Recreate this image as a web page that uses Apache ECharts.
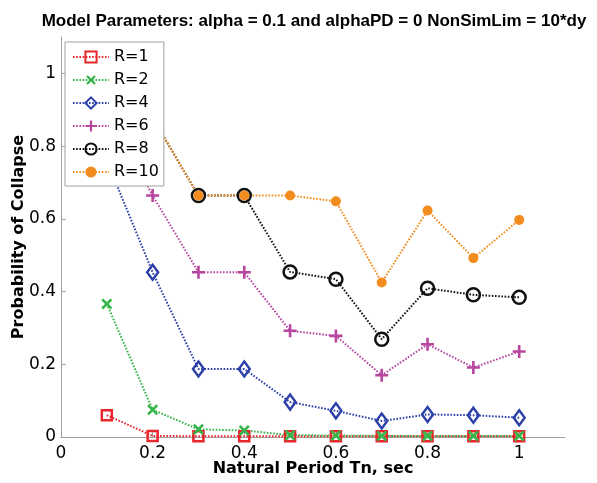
<!DOCTYPE html>
<html>
<head>
<meta charset="utf-8">
<script src="https://cdn.jsdelivr.net/npm/echarts@6/dist/echarts.min.js"></script>
<style>
  html, body { margin: 0; padding: 0; background: #fff; }
  #chart { width: 597px; height: 483px; }
</style>
</head>
<body>
<div id="chart"></div>
<script>
// Natural period (sec) at which each collapse probability was evaluated
const periods = [0.1, 0.2, 0.3, 0.4, 0.5, 0.6, 0.7, 0.8, 0.9, 1.0];

// Probability of collapse per strength ratio R
const r1  = [0.060, 0.003, 0.002, 0.002, 0.002, 0.002, 0.002, 0.002, 0.002, 0.002];
const r2  = [0.366, 0.075, 0.021, 0.018, 0.005, 0.004, 0.003, 0.003, 0.003, 0.003];
const r4  = [0.760, 0.453, 0.187, 0.187, 0.096, 0.072, 0.044, 0.062, 0.060, 0.053];
const r6  = [0.900, 0.664, 0.453, 0.453, 0.292, 0.278, 0.170, 0.255, 0.191, 0.235];
const r8  = [1.000, 0.877, 0.664, 0.664, 0.454, 0.434, 0.269, 0.409, 0.391, 0.384];
const r10 = [1.000, 0.877, 0.664, 0.664, 0.664, 0.648, 0.425, 0.623, 0.492, 0.597];

const tickValues = [0, 0.2, 0.4, 0.6, 0.8, 1.0];

const FONT = '"DejaVu Sans", "Liberation Sans", Arial, sans-serif';
const TITLE_FONT = '"Liberation Sans", Arial, Helvetica, sans-serif';
const plusPath = 'path://M4,0H6V4H10V6H6V10H4V6H0V4H4Z';

function pairs(values) {
  return periods.map((p, i) => [p, values[i]]);
}

function lineSeries(name, values, color, symbol, opts) {
  return Object.assign({
    name: name,
    type: 'line',
    data: pairs(values),
    symbol: symbol,
    showAllSymbol: true,
    lineStyle: { color: color, width: 2, type: [1.6, 1.6] },
    emphasis: { disabled: true },
    animation: false
  }, opts);
}

const chart = echarts.init(document.getElementById('chart'), null, { renderer: 'canvas' });

chart.setOption({
  backgroundColor: '#ffffff',
  animation: false,
  title: {
    text: 'Model Parameters: alpha = 0.1 and alphaPD = 0 NonSimLim = 10*dy',
    left: 309,
    top: 8,
    textAlign: 'center',
    textStyle: { fontFamily: TITLE_FONT, fontSize: 17, fontWeight: 'bold', color: '#000' }
  },
  legend: {
    orient: 'vertical',
    left: 65,
    top: 42,
    padding: [7, 5, 6, 7],
    itemWidth: 36,
    itemHeight: 14,
    itemGap: 7,
    backgroundColor: '#ffffff',
    borderColor: '#a0a0a0',
    borderWidth: 1,
    textStyle: { fontFamily: FONT, fontSize: 16, lineHeight: 16, color: '#000' },
    data: ['R=1', 'R=2', 'R=4', 'R=6', 'R=8', 'R=10']
  },
  grid: { left: 61, right: 32, top: 37, bottom: 46, containLabel: false, outerBoundsMode: 'none' },
  xAxis: {
    type: 'value',
    min: 0,
    max: 1.1,
    interval: 0.2,
    name: 'Natural Period Tn, sec',
    nameLocation: 'middle',
    nameGap: 24,
    nameMoveOverlap: false,
    nameTextStyle: { fontFamily: FONT, fontSize: 16, fontWeight: 'bold', color: '#000' },
    axisLine: { show: true, onZero: false, lineStyle: { color: '#a0a0a0', width: 1 } },
    axisTick: { show: true, inside: true, length: 5, customValues: tickValues, lineStyle: { color: '#a0a0a0' } },
    axisLabel: { customValues: tickValues, margin: 8, fontFamily: FONT, fontSize: 17, color: '#000' },
    splitLine: { show: false }
  },
  yAxis: {
    type: 'value',
    min: 0,
    max: 1.1,
    interval: 0.2,
    name: 'Probability of Collapse',
    nameLocation: 'middle',
    nameGap: 34,
    nameMoveOverlap: false,
    nameTextStyle: { fontFamily: FONT, fontSize: 16, fontWeight: 'bold', color: '#000' },
    axisLine: { show: true, onZero: false, lineStyle: { color: '#a0a0a0', width: 1 } },
    axisTick: { show: true, inside: true, length: 5, customValues: tickValues, lineStyle: { color: '#a0a0a0' } },
    axisLabel: { customValues: tickValues, margin: 5, fontFamily: FONT, fontSize: 17, color: '#000' },
    splitLine: { show: false }
  },
  series: [
    lineSeries('R=1', r1, '#e8262c', 'rect', {
      symbolSize: 10,
      itemStyle: { color: 'rgba(255,255,255,0)', borderColor: '#e8262c', borderWidth: 2.5 }
    }),
    lineSeries('R=2', r2, '#36b54a', plusPath, {
      symbolSize: 13,
      symbolRotate: 45,
      itemStyle: { color: '#36b54a', borderWidth: 0 }
    }),
    lineSeries('R=4', r4, '#2b3fa8', 'diamond', {
      symbolSize: [11, 15],
      itemStyle: { color: 'rgba(255,255,255,0)', borderColor: '#2b3fa8', borderWidth: 2.5 }
    }),
    lineSeries('R=6', r6, '#b8469f', plusPath, {
      symbolSize: 13,
      itemStyle: { color: '#b8469f', borderWidth: 0 }
    }),
    lineSeries('R=8', r8, '#111111', 'circle', {
      symbolSize: 13,
      itemStyle: { color: 'rgba(255,255,255,0)', borderColor: '#111111', borderWidth: 2.5 }
    }),
    lineSeries('R=10', r10, '#f28c1e', 'circle', {
      symbolSize: 10,
      itemStyle: { color: '#f28c1e', borderWidth: 0 }
    })
  ]
});
</script>
</body>
</html>
